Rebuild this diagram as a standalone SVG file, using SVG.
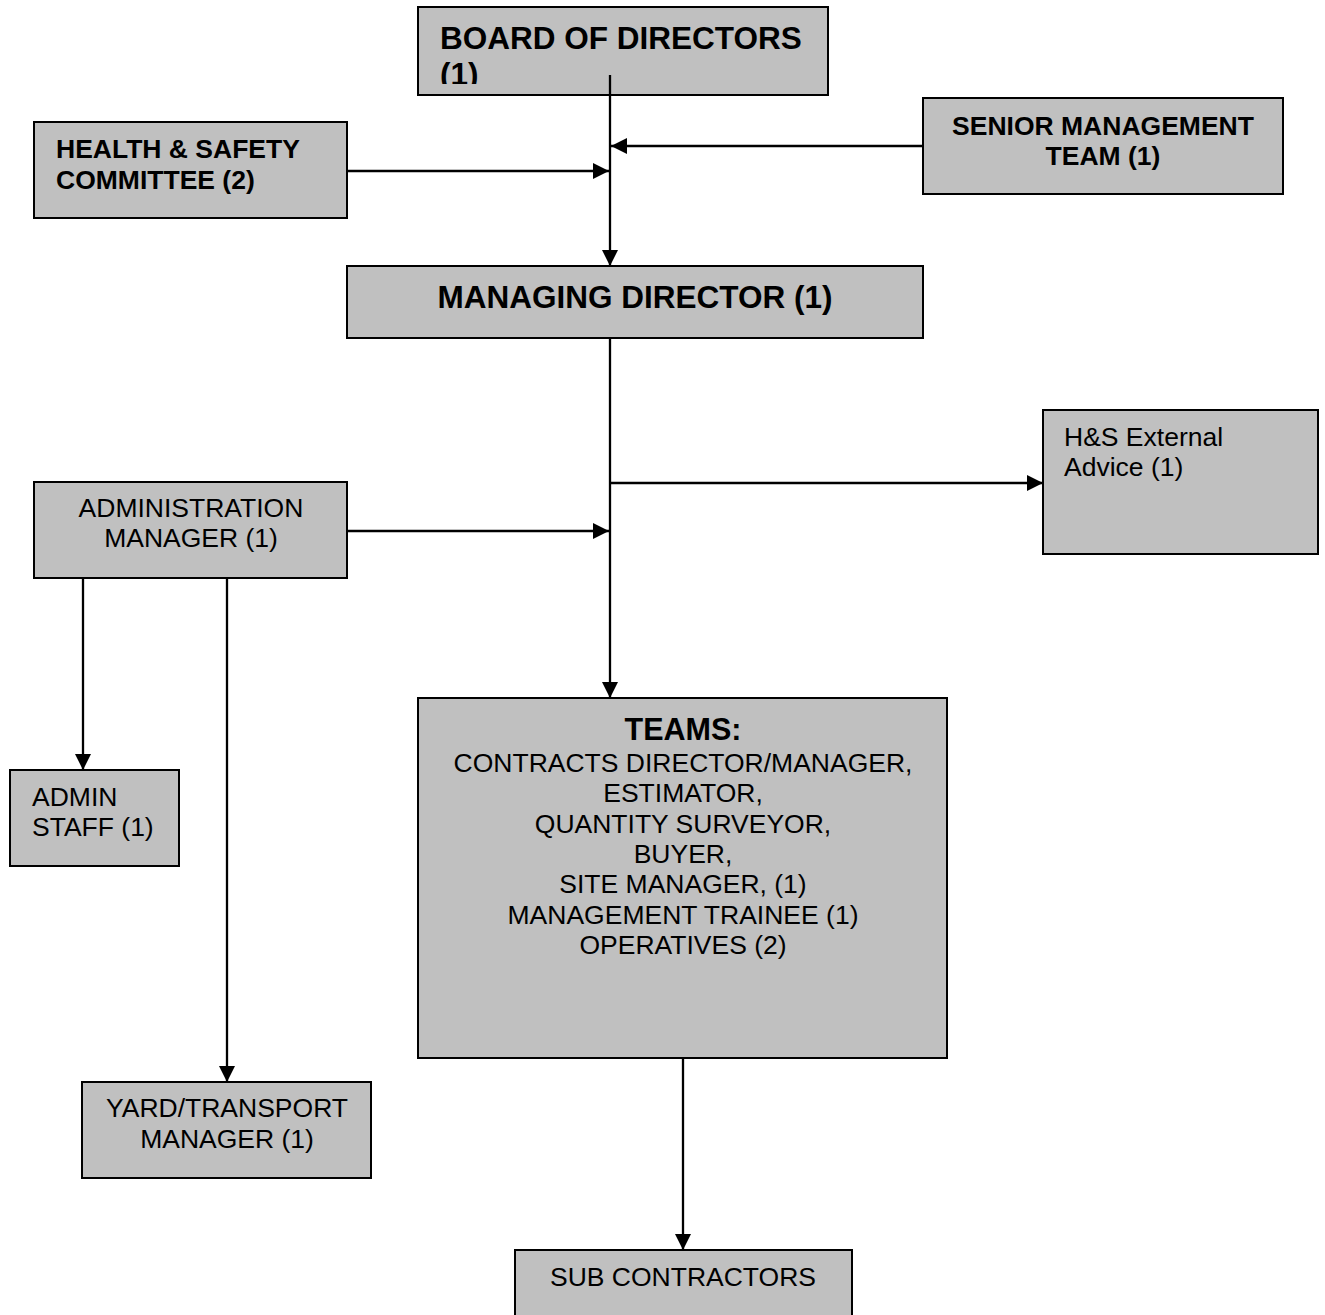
<svg xmlns="http://www.w3.org/2000/svg" width="1325" height="1315" viewBox="0 0 1325 1315">
<style>
.box{fill:#C0C0C0;stroke:#000;stroke-width:2}
.t{font-family:"Liberation Sans",Arial,sans-serif;font-size:26.5px;fill:#000}
.b{font-weight:bold}
.big{font-size:31.5px}
.c{text-anchor:middle}
.ln{stroke:#000;stroke-width:2.3;fill:none;marker-end:url(#ah)}
</style>
<defs>
<marker id="ah" viewBox="0 0 16 16" markerWidth="16" markerHeight="16" refX="16" refY="8" orient="auto" markerUnits="userSpaceOnUse">
<path d="M0,0 L16,8 L0,16 z" fill="#000"/>
</marker>
<clipPath id="bclip"><rect x="418" y="7" width="410" height="77"/></clipPath>
</defs>
<rect width="1325" height="1315" fill="#fff"/>

<g id="board">
<rect class="box" x="418" y="7" width="410" height="88"/>
<g clip-path="url(#bclip)">
<text class="t b big" x="440" y="49">BOARD OF DIRECTORS</text>
<text class="t b big" x="440" y="85">(1)</text>
</g>
</g>

<g id="hs-committee">
<rect class="box" x="34" y="122" width="313" height="96"/>
<text class="t b" x="56" y="158">HEALTH &amp; SAFETY</text>
<text class="t b" x="56" y="189">COMMITTEE (2)</text>
</g>

<g id="senior-management">
<rect class="box" x="923" y="98" width="360" height="96"/>
<text class="t b c" x="1103" y="135">SENIOR MANAGEMENT</text>
<text class="t b c" x="1103" y="165">TEAM (1)</text>
</g>

<g id="managing-director">
<rect class="box" x="347" y="266" width="576" height="72"/>
<text class="t b big c" x="635" y="308">MANAGING DIRECTOR (1)</text>
</g>

<g id="hs-external">
<rect class="box" x="1043" y="410" width="275" height="144"/>
<text class="t" x="1064" y="446">H&amp;S External</text>
<text class="t" x="1064" y="476">Advice (1)</text>
</g>

<g id="admin-manager">
<rect class="box" x="34" y="482" width="313" height="96"/>
<text class="t c" x="191" y="517">ADMINISTRATION</text>
<text class="t c" x="191" y="547">MANAGER (1)</text>
</g>

<g id="admin-staff">
<rect class="box" x="10" y="770" width="169" height="96"/>
<text class="t" x="32" y="806">ADMIN</text>
<text class="t" x="32" y="836">STAFF (1)</text>
</g>

<g id="teams">
<rect class="box" x="418" y="698" width="529" height="360"/>
<text class="t b c" x="683" y="740" style="font-size:30.5px">TEAMS:</text>
<text class="t c" x="683" y="772">CONTRACTS DIRECTOR/MANAGER,</text>
<text class="t c" x="683" y="802">ESTIMATOR,</text>
<text class="t c" x="683" y="833">QUANTITY SURVEYOR,</text>
<text class="t c" x="683" y="863">BUYER,</text>
<text class="t c" x="683" y="893">SITE MANAGER, (1)</text>
<text class="t c" x="683" y="924">MANAGEMENT TRAINEE (1)</text>
<text class="t c" x="683" y="954">OPERATIVES (2)</text>
</g>

<g id="yard-manager">
<rect class="box" x="82" y="1082" width="289" height="96"/>
<text class="t c" x="227" y="1117">YARD/TRANSPORT</text>
<text class="t c" x="227" y="1148">MANAGER (1)</text>
</g>

<g id="sub-contractors">
<rect class="box" x="515" y="1250" width="337" height="80"/>
<text class="t c" x="683" y="1286">SUB CONTRACTORS</text>
</g>

<g id="connectors">
<line class="ln" x1="610" y1="75" x2="610" y2="266"/>
<line class="ln" x1="923" y1="146" x2="611" y2="146"/>
<line class="ln" x1="347" y1="171" x2="609" y2="171"/>
<line class="ln" x1="610" y1="338" x2="610" y2="698"/>
<line class="ln" x1="610" y1="483" x2="1043" y2="483"/>
<line class="ln" x1="347" y1="531" x2="609" y2="531"/>
<line class="ln" x1="83" y1="578" x2="83" y2="770"/>
<line class="ln" x1="227" y1="578" x2="227" y2="1082"/>
<line class="ln" x1="683" y1="1058" x2="683" y2="1250"/>
</g>
</svg>
